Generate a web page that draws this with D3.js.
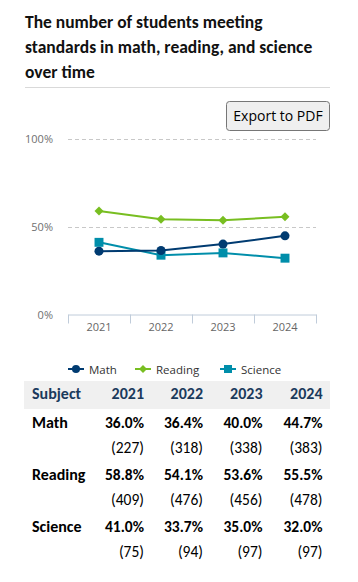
<!DOCTYPE html>
<html><head><meta charset="utf-8">
<script src="https://cdn.jsdelivr.net/npm/d3@7"></script>
<style>
html,body{margin:0;padding:0;background:#fff;}
svg{display:block;}
</style></head>
<body>
<svg id="c" width="358" height="582"></svg>
<script>
const titleLines = ["The number of students meeting", "standards in math, reading, and science", "over time"];
const years = ["2021", "2022", "2023", "2024"];
const seriesNames = ["Math", "Reading", "Science"];
const mathPct = [36.0, 36.4, 40.0, 44.7];
const readingPct = [58.8, 54.1, 53.6, 55.5];
const sciencePct = [41.0, 33.7, 35.0, 32.0];
const mathN = [227, 318, 338, 383];
const readingN = [409, 476, 456, 478];
const scienceN = [75, 94, 97, 97];
const yTicks = [0, 50, 100];
const colors = ["#003b71", "#78be21", "#008eaa"];
const symbols = [d3.symbolCircle, d3.symbolSquare, d3.symbolSquare];
const symRot = [0, 45, 0];
const symSizes = [64, 40, 80];

const series = [
  {name: seriesNames[0], pct: mathPct, n: mathN},
  {name: seriesNames[1], pct: readingPct, n: readingN},
  {name: seriesNames[2], pct: sciencePct, n: scienceN}
];

const svg = d3.select("#c");
const F = "Calibri, Carlito, Lato, 'Open Sans', sans-serif";
const F2 = "'Open Sans', 'Segoe UI', sans-serif";

// Title
svg.append("g").selectAll("text").data(titleLines).join("text")
  .attr("x", 25).attr("y", (d,i) => 28 + i*25)
  .attr("font-family", F).attr("font-weight", 700).attr("font-size", 17.5)
  .attr("fill", "#111").text(d => d);
svg.append("line").attr("x1", 25).attr("x2", 330).attr("y1", 87.5).attr("y2", 87.5)
  .attr("stroke", "#d9d9d9").attr("stroke-width", 1);

// Export button
const btn = svg.append("g");
btn.append("rect").attr("x", 226.5).attr("y", 101.5).attr("width", 103).attr("height", 29).attr("rx", 3)
  .attr("fill", "#efefef").attr("stroke", "#767676");
btn.append("text").attr("x", 278).attr("y", 121).attr("text-anchor", "middle")
  .attr("font-family", F2).attr("font-size", 14).attr("fill", "#000").text("Export to PDF");

// Chart
const x = d3.scaleBand().domain(years).range([68, 316]);
const y = d3.scaleLinear().domain([0, 100]).range([314.5, 138.5]);

const grid = svg.append("g");
grid.selectAll("line").data(yTicks.filter(d => d > 0)).join("line")
  .attr("x1", 68).attr("x2", 316).attr("y1", d => Math.round(y(d)) + 0.5).attr("y2", d => Math.round(y(d)) + 0.5)
  .attr("stroke", "#c8c8c8").attr("stroke-dasharray", "4,3");
grid.selectAll("text").data(yTicks).join("text")
  .attr("x", 53).attr("y", d => y(d) + 4).attr("text-anchor", "end")
  .attr("font-family", F2).attr("font-size", 11).attr("fill", "#707070").text(d => d + "%");

const xAxis = svg.append("g").attr("transform", "translate(0,314.5)")
  .call(d3.axisBottom(x).tickSize(0).tickSizeOuter(0).tickPadding(9));
xAxis.select(".domain").attr("stroke", "#c0ccda");
xAxis.selectAll("text").attr("font-family", F2).attr("font-size", 11).attr("fill", "#666");
const bounds = years.map(d => x(d)).concat([x.range()[1]]);
xAxis.selectAll("line.bt").data(bounds).join("line").attr("class", "bt")
  .attr("x1", d => Math.round(d) + 0.5).attr("x2", d => Math.round(d) + 0.5).attr("y1", 0).attr("y2", 9)
  .attr("stroke", "#c0ccda");

const line = d3.line().x((d,i) => x(years[i]) + x.bandwidth()/2).y(d => y(d));
const drawOrder = [2, 0, 1];
drawOrder.forEach(si => {
  const s = series[si];
  const g = svg.append("g");
  g.append("path").attr("d", line(s.pct)).attr("fill", "none").attr("stroke", colors[si]).attr("stroke-width", 2);
  g.selectAll("path.m").data(s.pct).join("path").attr("class", "m")
    .attr("transform", (d,i) => `translate(${x(years[i]) + x.bandwidth()/2},${y(d)}) rotate(${symRot[si]})`)
    .attr("d", d3.symbol().type(symbols[si]).size(symSizes[si])).attr("fill", colors[si]);
});

// Legend
const legX = [68, 135, 220];
const leg = svg.append("g");
series.forEach((s, i) => {
  const g = leg.append("g").attr("transform", `translate(${legX[i]},369)`);
  g.append("line").attr("x1", 0).attr("x2", 16).attr("stroke", colors[i]).attr("stroke-width", 2);
  g.append("path").attr("transform", `translate(8,0) rotate(${symRot[i]})`).attr("d", d3.symbol().type(symbols[i]).size(symSizes[i]*0.8)).attr("fill", colors[i]);
  g.append("text").attr("x", 21).attr("y", 4.5).attr("font-family", F2).attr("font-size", 11.5).attr("fill", "#333").text(s.name);
});

// Table
const colR = [144, 203, 262.5, 322.5];
const tbl = svg.append("g");
tbl.append("rect").attr("x", 24).attr("y", 381).attr("width", 306).attr("height", 28).attr("fill", "#f0f0f0");
tbl.append("text").attr("x", 32).attr("y", 399).attr("font-family", F).attr("font-weight", 700).attr("font-size", 16)
  .attr("fill", "#1b3a5c").text("Subject");
tbl.selectAll("text.yh").data(years).join("text").attr("class", "yh")
  .attr("x", (d,i) => colR[i]).attr("y", 399).attr("text-anchor", "end")
  .attr("font-family", F).attr("font-weight", 700).attr("font-size", 16).attr("fill", "#1b3a5c").text(d => d);

series.forEach((s, si) => {
  const base = 428 + si*52;
  tbl.append("text").attr("x", 32).attr("y", base).attr("font-family", F).attr("font-weight", 700)
    .attr("font-size", 16).attr("fill", "#000").text(s.name);
  s.pct.forEach((v, i) => {
    tbl.append("text").attr("x", colR[i]).attr("y", base).attr("text-anchor", "end")
      .attr("font-family", F).attr("font-weight", 700).attr("font-size", 15.5).attr("fill", "#000").text(v.toFixed(1) + "%");
    tbl.append("text").attr("x", colR[i]).attr("y", base + 25).attr("text-anchor", "end")
      .attr("font-family", F).attr("font-size", 15.5).attr("fill", "#000").text("(" + s.n[i] + ")");
  });
});
</script>
</body></html>
